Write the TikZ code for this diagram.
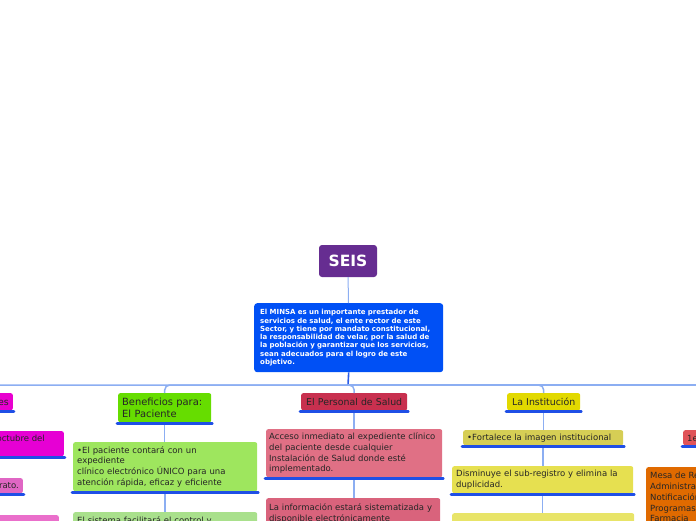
\documentclass[tikz,border=0pt]{standalone}
\usepackage{fontspec}
\setmainfont{DejaVu Sans}
\usetikzlibrary{positioning}

\definecolor{seispurple}{HTML}{662D91}
\definecolor{minsablue}{HTML}{0050F5}
\definecolor{busblue}{HTML}{8CAEF2}
\definecolor{hubblue}{HTML}{2A5CE8}
\definecolor{barblue}{HTML}{1F4FE6}
\definecolor{antmag}{HTML}{E800CF}
\definecolor{abox1}{HTML}{E600D4}
\definecolor{abox2}{HTML}{E066C4}
\definecolor{abox3}{HTML}{EA6FCB}
\definecolor{benefgreen}{HTML}{66DD00}
\definecolor{gbox1}{HTML}{9EE65E}
\definecolor{gbox2}{HTML}{A9E08C}
\definecolor{persred}{HTML}{C8304F}
\definecolor{pbox1}{HTML}{E07085}
\definecolor{pbox2}{HTML}{D9637C}
\definecolor{instyel}{HTML}{E2D900}
\definecolor{ibox1}{HTML}{D6CE55}
\definecolor{ibox2}{HTML}{E6E050}
\definecolor{ibox3}{HTML}{E8E468}
\definecolor{rred}{HTML}{E05358}
\definecolor{rorange}{HTML}{E06A00}

\begin{document}
\begin{tikzpicture}[x=1pt,y=-1pt,
    box/.style={rectangle, rounded corners=2pt, inner xsep=4pt, inner ysep=2pt,
      align=left, anchor=north west, text=black!85,
      font=\fontsize{8.5}{10.7}\selectfont},
    titlebox/.style={box, align=center, font=\fontsize{9.4}{12}\selectfont},
    link/.style={draw=busblue, line width=1.5pt},
    bar/.style={draw=barblue, line width=2.6pt, line cap=round}]

    \useasboundingbox (0,0) rectangle (696,520);
    \clip (0,0) rectangle (696,520);

    % root and description
    \node[rectangle, rounded corners=3pt, fill=seispurple, text=white,
      minimum width=58pt, minimum height=32pt,
      font=\fontsize{15.5}{18}\selectfont\bfseries] (seis) at (348,261) {SEIS};
    \node[box, fill=minsablue, text=white, inner xsep=6pt, rounded corners=3pt,
      text width=177pt, minimum height=69pt,
      font=\fontsize{7}{8.3}\selectfont\bfseries] (minsa) at (254,303)
      {El MINSA es un importante prestador de\\
       servicios de salud, el ente rector de este\\
       Sector, y tiene por mandato constitucional,\\
       la responsabilidad de velar, por la salud de\\
       la población y garantizar que los servicios,\\
       sean adecuados para el logro de este\\
       objetivo.};

    \coordinate (hub) at (348,385);
    \coordinate (offright) at (720,385);

    % second level
    \node[titlebox, anchor=north east, fill=antmag, minimum height=17pt] (antec) at (13,393) {Antecedentes};
    \node[box, fill=benefgreen, text width=85pt, minimum height=29pt,
      font=\fontsize{9.9}{12}\selectfont] (benef) at (118,393) {Beneficios para:\\El Paciente};
    \node[titlebox, fill=persred, text width=98pt, minimum height=17pt] (personal) at (301,393) {El Personal de Salud};
    \node[titlebox, fill=instyel, text width=65pt, minimum height=17pt] (instit) at (507,393) {La Institución};

    % left column
    \node[box, anchor=north east, fill=abox1, minimum height=25pt] (a1) at (64,431)
      {Se inició la implementación en octubre del\hspace*{15pt}\\2011.};
    \node[box, anchor=north east, fill=abox2, minimum height=15pt] (a2) at (23,478) {Firma del contrato.};
    \node[box, anchor=north east, fill=abox3, minimum width=200pt, minimum height=30pt] (a3) at (59,515) {};

    % patient column
    \node[box, fill=gbox1, text width=176pt, minimum height=49pt] (g1) at (73,442)
      {•El paciente contará con un\\expediente\\clínico electrónico ÚNICO para una\\atención rápida, eficaz y eficiente};
    \node[box, fill=gbox2, text width=176pt, inner ysep=4pt] (g2) at (73,512)
      {El sistema facilitará el control y};

    % staff column
    \node[box, fill=pbox1, inner xsep=3pt, text width=170pt, minimum height=48pt] (p1) at (266,429)
      {Acceso inmediato al expediente clínico\\del paciente desde cualquier\\Instalación de Salud donde esté\\implementado.};
    \node[box, fill=pbox2, inner xsep=3pt, text width=168pt, minimum height=30pt] (p2) at (266,498)
      {La información estará sistematizada y\\disponible electrónicamente};

    % institution column
    \node[box, fill=ibox1, text width=152pt, minimum height=15pt] (i1) at (463,430) {•Fortalece la imagen institucional};
    \node[box, fill=ibox2, text width=173pt, minimum height=27pt] (i2) at (452,466)
      {Disminuye el sub-registro y elimina la\\duplicidad.};
    \node[box, fill=ibox3, text width=174pt, minimum height=30pt] (i3) at (452,513) {};

    % right column
    \node[box, fill=rred, minimum height=15pt] (r1) at (683,430) {1er Nivel de Atención};
    \node[box, fill=rorange, text width=112pt, minimum height=60pt] (r2) at (646,467)
      {Mesa de Registros\\Administración\\Notificación\\Programas\\Farmacia};

    % connectors
    \draw[link, line width=1pt] (seis) -- (minsa);
    \draw[draw=hubblue, line width=1.6pt] (minsa.south) -- (hub);
    \foreach \n in {antec,benef,personal,instit} {
        \draw[link, rounded corners=5pt] (hub) -| (\n.north);
    }
    \draw[link] (hub) -- (offright);

    \draw[link] (antec.south) -- (antec.south |- a1.north);
    \draw[link] (a1.south) -- (a1.south |- a2.north);
    \draw[link] (a2.south) -- (a2.south |- a3.north);
    \draw[link] (benef.south) -- (benef.south |- g1.north);
    \draw[link] (g1.south) -- (g1.south |- g2.north);
    \draw[link] (personal.south) -- (personal.south |- p1.north);
    \draw[link] (p1.south) -- (p1.south |- p2.north);
    \draw[link] (instit.south) -- (instit.south |- i1.north);
    \draw[link] (i1.south) -- (i1.south |- i2.north);
    \draw[link] (i2.south) -- (i2.south |- i3.north);
    \draw[link] (r1.south) -- (r1.south |- r2.north);

    % underline bars
    \foreach \n in {antec,benef,personal,instit,a1,a2,a3,g1,g2,p1,p2,i1,i2,i3,r1,r2} {
        \draw[bar] ([shift={(-1,1)}]\n.south west) -- ([shift={(1,1)}]\n.south east);
    }
\end{tikzpicture}
\end{document}
